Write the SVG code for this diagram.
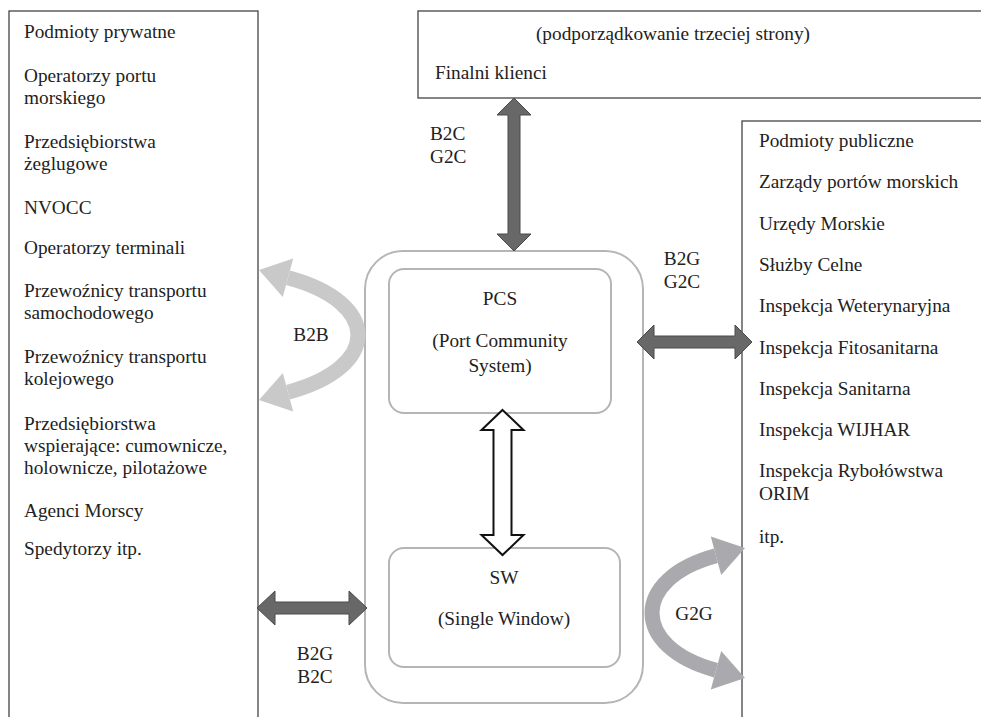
<svg xmlns="http://www.w3.org/2000/svg" width="981" height="717" viewBox="0 0 981 717">
<style>
  text { font-family: "Liberation Serif", "Times New Roman", serif; font-size: 19.3px; fill: #222; }
  .mid { text-anchor: middle; }
  .box { fill: #fff; stroke: #444; stroke-width: 1.3; }
  .sys { fill: none; stroke: #b5b5b5; stroke-width: 2; }
  .dark { fill: #686868; stroke: #4a4a4a; stroke-width: 1; }
  .white { fill: #fff; stroke: #111; stroke-width: 2; stroke-linejoin: miter; }
</style>
<rect x="0" y="0" width="981" height="717" fill="#fff"/>

<g id="private">
  <rect class="box" x="9" y="11" width="249" height="740"/>
  <text x="24" y="38">Podmioty prywatne</text>
  <text x="24" y="82">Operatorzy portu</text>
  <text x="24" y="103.5">morskiego</text>
  <text x="24" y="147.5">Przedsiębiorstwa</text>
  <text x="24" y="170">żeglugowe</text>
  <text x="24" y="214">NVOCC</text>
  <text x="24" y="253.5">Operatorzy terminali</text>
  <text x="24" y="297">Przewoźnicy transportu</text>
  <text x="24" y="318.5">samochodowego</text>
  <text x="24" y="362.5">Przewoźnicy transportu</text>
  <text x="24" y="385">kolejowego</text>
  <text x="24" y="429.5">Przedsiębiorstwa</text>
  <text x="24" y="451.5">wspierające: cumownicze,</text>
  <text x="24" y="473.5">holownicze, pilotażowe</text>
  <text x="24" y="517">Agenci Morscy</text>
  <text x="24" y="555">Spedytorzy itp.</text>
</g>

<g id="clients">
  <rect class="box" x="418" y="11" width="580" height="87"/>
  <text class="mid" x="673" y="40">(podporządkowanie trzeciej strony)</text>
  <text x="435" y="79">Finalni klienci</text>
</g>

<g id="public">
  <rect class="box" x="742" y="121" width="260" height="630"/>
  <text x="759" y="147">Podmioty publiczne</text>
  <text x="759" y="188.3">Zarządy portów morskich</text>
  <text x="759" y="229.6">Urzędy Morskie</text>
  <text x="759" y="270.9">Służby Celne</text>
  <text x="759" y="312.2">Inspekcja Weterynaryjna</text>
  <text x="759" y="353.5">Inspekcja Fitosanitarna</text>
  <text x="759" y="394.8">Inspekcja Sanitarna</text>
  <text x="759" y="436.1">Inspekcja WIJHAR</text>
  <text x="759" y="477.4">Inspekcja Rybołówstwa</text>
  <text x="759" y="499.9">ORIM</text>
  <text x="759" y="543">itp.</text>
</g>

<g id="system">
  <rect class="sys" x="365" y="251" width="278" height="452" rx="38" ry="38"/>
</g>

<g id="pcs">
  <rect class="sys" x="389" y="269" width="222" height="144" rx="15" ry="15"/>
  <text class="mid" x="500" y="305">PCS</text>
  <text class="mid" x="500" y="347">(Port Community</text>
  <text class="mid" x="500" y="371.5">System)</text>
</g>

<g id="sw">
  <rect class="sys" x="389" y="548" width="231" height="119" rx="15" ry="15"/>
  <text class="mid" x="504" y="584">SW</text>
  <text class="mid" x="504" y="625">(Single Window)</text>
</g>

<g id="connectors">
  <!-- B2C / G2C vertical arrow -->
  <polygon class="dark" points="514,98 531,115 520,115 520,234 531,234 514,251 497,234 508,234 508,115 497,115"/>
  <text x="430" y="140">B2C</text>
  <text x="430" y="163">G2C</text>

  <!-- B2G / G2C horizontal arrow right -->
  <polygon class="dark" points="637,342 654,325 654,336 735,336 735,325 752,342 735,359 735,348 654,348 654,359"/>
  <text class="mid" x="682" y="264.5">B2G</text>
  <text class="mid" x="682" y="287.5">G2C</text>

  <!-- B2G / B2C horizontal arrow left -->
  <polygon class="dark" points="257,608 275,591 275,602 349,602 349,591 367,608 349,625 349,614 275,614 275,625"/>
  <text class="mid" x="315" y="660">B2G</text>
  <text class="mid" x="315" y="683">B2C</text>

  <!-- PCS <-> SW white double arrow -->
  <polygon class="white" points="502.5,410 523.5,430 511.5,430 511.5,535 523.5,535 502.5,555 481.5,535 493.5,535 493.5,430 481.5,430"/>

  <!-- B2B curved arrow -->
  <path d="M288,277.8 C381.3,302.8 381.3,367.2 288,392.2" fill="none" stroke="#c9c9c9" stroke-width="15"/>
  <polygon points="259,270 293.2,258.5 282.8,297.1" fill="#c9c9c9"/>
  <polygon points="259,400 293.2,411.5 282.8,372.9" fill="#c9c9c9"/>
  <text class="mid" x="311" y="341">B2B</text>

  <!-- G2G curved arrow -->
  <path d="M716,555.8 C630.7,578.7 630.7,647.3 716,670.2" fill="none" stroke="#aaaaae" stroke-width="15"/>
  <polygon points="745,548 710.8,536.5 721.2,575.1" fill="#aaaaae"/>
  <polygon points="745,678 710.8,689.5 721.2,650.9" fill="#aaaaae"/>
  <text class="mid" x="694" y="620">G2G</text>
</g>
</svg>
